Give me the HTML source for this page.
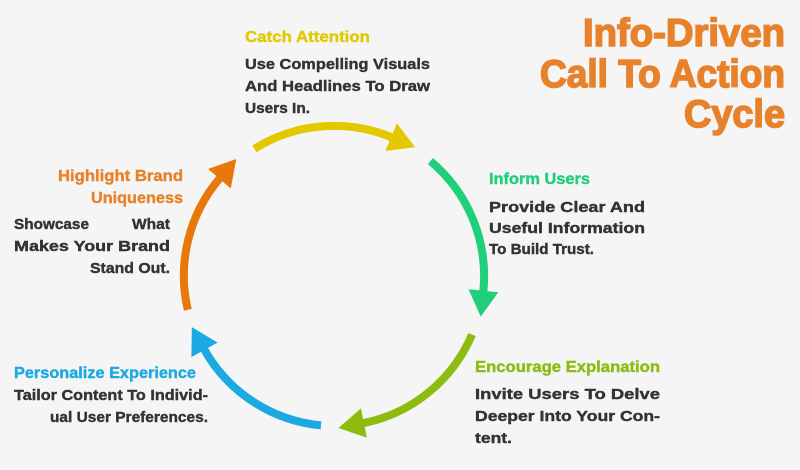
<!DOCTYPE html>
<html><head><meta charset="utf-8"><style>
html,body{margin:0;padding:0;background:#f5f5f5;}
svg{display:block;}
text{font-family:"Liberation Sans",sans-serif;font-weight:bold;}
.b{font-size:15px;fill:#333;stroke:#333;stroke-width:0.4;}
.h{font-size:16px;stroke-width:0.4;}
.t{font-size:39px;fill:#e8822a;stroke:#e8822a;stroke-width:1.6;}
</style></head><body>
<svg width="800" height="470" viewBox="0 0 800 470" xmlns="http://www.w3.org/2000/svg">
<defs>
<marker id="my" markerUnits="userSpaceOnUse" markerWidth="34" markerHeight="34" refX="1" refY="15" orient="auto"><path d="M0,0 L26,15 L0,30 z" fill="#e3c800"/></marker>
<marker id="mg" markerUnits="userSpaceOnUse" markerWidth="34" markerHeight="34" refX="1" refY="15" orient="auto"><path d="M0,0 L26,15 L0,30 z" fill="#1fcf7a"/></marker>
<marker id="ml" markerUnits="userSpaceOnUse" markerWidth="34" markerHeight="34" refX="1" refY="15" orient="auto"><path d="M0,0 L26,15 L0,30 z" fill="#8dbb10"/></marker>
<marker id="mb" markerUnits="userSpaceOnUse" markerWidth="34" markerHeight="34" refX="1" refY="15" orient="auto"><path d="M0,0 L26,15 L0,30 z" fill="#1aa9e0"/></marker>
<marker id="mo" markerUnits="userSpaceOnUse" markerWidth="34" markerHeight="34" refX="1" refY="15" orient="auto"><path d="M0,0 L26,15 L0,30 z" fill="#e8780a"/></marker>
</defs>
<rect width="800" height="470" fill="#f5f5f5"/>
<g fill="none" stroke-width="8">
<path d="M254.5,148.8 A150,150 0 0 1 392,137.5" stroke="#e3c800" marker-end="url(#my)"/>
<path d="M430.4,161.1 A150,150 0 0 1 483.3,291.7" stroke="#1fcf7a" marker-end="url(#mg)"/>
<path d="M472,334.6 A150,150 0 0 1 363,423.2" stroke="#8dbb10" marker-end="url(#ml)"/>
<path d="M321,425.4 A150,150 0 0 1 204,349" stroke="#1aa9e0" marker-end="url(#mb)"/>
<path d="M187.8,309.8 A150,150 0 0 1 220,178" stroke="#e8780a" marker-end="url(#mo)"/>
</g>

<text class="t" x="583" y="46" textLength="202" lengthAdjust="spacingAndGlyphs">Info-Driven</text>
<text class="t" x="540" y="87" textLength="245" lengthAdjust="spacingAndGlyphs">Call To Action</text>
<text class="t" x="684" y="127" textLength="101" lengthAdjust="spacingAndGlyphs">Cycle</text>

<text class="h" x="245" y="42" fill="#e3c800" stroke="#e3c800" textLength="125" lengthAdjust="spacingAndGlyphs">Catch Attention</text>
<text class="b" x="245" y="69" textLength="185" lengthAdjust="spacingAndGlyphs">Use Compelling Visuals</text>
<text class="b" x="245" y="91" textLength="185" lengthAdjust="spacingAndGlyphs">And Headlines To Draw</text>
<text class="b" x="245" y="113" textLength="65" lengthAdjust="spacingAndGlyphs">Users In.</text>

<text class="h" x="489" y="184" fill="#1fcf7a" stroke="#1fcf7a" textLength="101" lengthAdjust="spacingAndGlyphs">Inform Users</text>
<text class="b" x="489" y="212" textLength="156" lengthAdjust="spacingAndGlyphs">Provide Clear And</text>
<text class="b" x="489" y="233" textLength="156" lengthAdjust="spacingAndGlyphs">Useful Information</text>
<text class="b" x="489" y="254" textLength="105" lengthAdjust="spacingAndGlyphs">To Build Trust.</text>

<text class="h" x="475" y="372" fill="#8dbb10" stroke="#8dbb10" textLength="185" lengthAdjust="spacingAndGlyphs">Encourage Explanation</text>
<text class="b" x="475" y="399" textLength="185" lengthAdjust="spacingAndGlyphs">Invite Users To Delve</text>
<text class="b" x="475" y="421" textLength="185" lengthAdjust="spacingAndGlyphs">Deeper Into Your Con-</text>
<text class="b" x="475" y="443" textLength="37" lengthAdjust="spacingAndGlyphs">tent.</text>

<text class="h" x="58" y="181" fill="#e8822a" stroke="#e8822a" textLength="125" lengthAdjust="spacingAndGlyphs">Highlight Brand</text>
<text class="h" x="91" y="203" fill="#e8822a" stroke="#e8822a" textLength="92" lengthAdjust="spacingAndGlyphs">Uniqueness</text>
<text class="b" x="14" y="229" textLength="75" lengthAdjust="spacingAndGlyphs">Showcase</text>
<text class="b" x="132" y="229" textLength="38" lengthAdjust="spacingAndGlyphs">What</text>
<text class="b" x="14" y="251" textLength="156" lengthAdjust="spacingAndGlyphs">Makes Your Brand</text>
<text class="b" x="90" y="273" textLength="80" lengthAdjust="spacingAndGlyphs">Stand Out.</text>

<text class="h" x="14" y="378" fill="#1aa9e0" stroke="#1aa9e0" textLength="182" lengthAdjust="spacingAndGlyphs">Personalize Experience</text>
<text class="b" x="14" y="400" textLength="194" lengthAdjust="spacingAndGlyphs">Tailor Content To Individ-</text>
<text class="b" x="50" y="422" textLength="158" lengthAdjust="spacingAndGlyphs">ual User Preferences.</text>
</svg>
</body></html>
